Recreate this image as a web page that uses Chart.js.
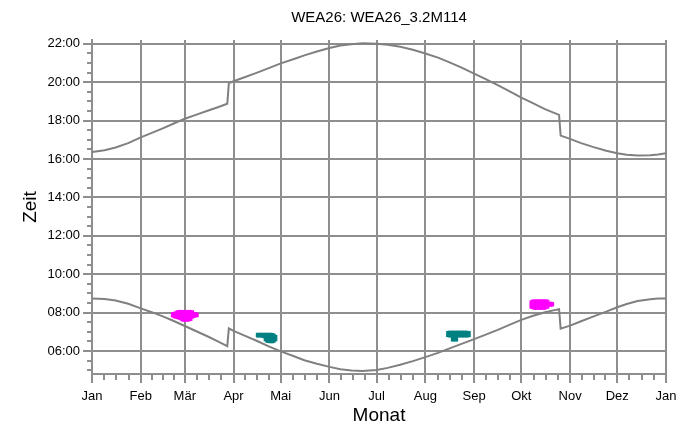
<!DOCTYPE html>
<html><head><meta charset="utf-8">
<script src="https://cdn.jsdelivr.net/npm/chart.js@4.4.1/dist/chart.umd.min.js"></script>
<style>html,body{margin:0;padding:0;background:#fff}canvas{display:block}</style>
</head><body>
<canvas id="c" width="696" height="430"></canvas>
<script>
// ---- axis categories / tick labels ----
const monthStarts = [0, 31, 59, 90, 120, 151, 181, 212, 243, 273, 304, 334, 365];
const monthNames  = ['Jan','Feb','Mär','Apr','Mai','Jun','Jul','Aug','Sep','Okt','Nov','Dez','Jan'];
const hourTicks   = [6, 8, 10, 12, 14, 16, 18, 20, 22];
const hourLabels  = ['06:00','08:00','10:00','12:00','14:00','16:00','18:00','20:00','22:00'];

// ---- sunrise / sunset curves (day of year, hours local time) ----
const curveDays    = [0, 8, 15, 23, 31, 38, 45, 52, 59, 66, 73, 80, 86, 87, 90, 97, 105, 112, 120, 128, 135, 143, 151, 158, 165, 172, 181, 188, 196, 204, 212, 220, 227, 235, 243, 250, 258, 265, 273, 280, 288, 297, 298, 304, 311, 319, 327, 334, 340, 347, 355, 360, 365];
const sunsetTimes  = [16.36, 16.46, 16.60, 16.83, 17.13, 17.36, 17.60, 17.85, 18.10, 18.30, 18.50, 18.70, 18.88, 19.95, 20.05, 20.26, 20.50, 20.72, 20.98, 21.20, 21.40, 21.60, 21.78, 21.91, 21.98, 22.03, 22.01, 21.95, 21.85, 21.69, 21.50, 21.28, 21.05, 20.76, 20.45, 20.17, 19.85, 19.55, 19.20, 18.92, 18.60, 18.30, 17.22, 17.05, 16.83, 16.62, 16.43, 16.30, 16.22, 16.18, 16.19, 16.24, 16.30];
const sunriseTimes = [8.73, 8.71, 8.63, 8.46, 8.22, 8.02, 7.80, 7.56, 7.30, 7.04, 6.78, 6.50, 6.25, 7.18, 7.05, 6.80, 6.52, 6.25, 5.98, 5.74, 5.52, 5.33, 5.17, 5.05, 4.98, 4.95, 5.01, 5.12, 5.28, 5.47, 5.68, 5.90, 6.12, 6.37, 6.62, 6.84, 7.10, 7.35, 7.62, 7.82, 8.02, 8.18, 7.16, 7.32, 7.55, 7.80, 8.05, 8.28, 8.45, 8.60, 8.70, 8.73, 8.73];

// ---- shadow periods (magenta) ----
const magentaDays  = [51, 52, 53, 54, 55, 56, 57, 58, 59, 60, 61, 62, 63, 64, 65, 66, 67,
                      279, 280, 281, 282, 283, 284, 285, 286, 287, 288, 289, 290, 291, 292, 293];
const magentaStart = [7.77, 7.72, 7.70, 7.68, 7.65, 7.62, 7.56, 7.54, 7.54, 7.54, 7.54, 7.56, 7.58, 7.70, 7.74, 7.76, 7.78,
                      8.22, 8.20, 8.16, 8.16, 8.16, 8.16, 8.16, 8.16, 8.16, 8.16, 8.20, 8.22, 8.32, 8.32, 8.34];
const magentaEnd   = [8.00, 8.02, 8.05, 8.10, 8.12, 8.12, 8.12, 8.12, 8.12, 8.12, 8.12, 8.12, 8.12, 8.10, 8.02, 8.00, 7.98,
                      8.62, 8.66, 8.67, 8.67, 8.67, 8.67, 8.67, 8.67, 8.67, 8.67, 8.67, 8.65, 8.55, 8.55, 8.53];

// ---- shadow periods (teal) ----
const tealDays  = [105, 106, 107, 108, 109, 110, 111, 112, 113, 114, 115, 116, 117,
                   226, 227, 228, 229, 230, 231, 232, 233, 234, 235, 236, 237, 238, 239, 240];
const tealStart = [6.72, 6.72, 6.72, 6.71, 6.68, 6.52, 6.45, 6.43, 6.42, 6.42, 6.42, 6.45, 6.52,
                   6.74, 6.72, 6.72, 6.51, 6.51, 6.51, 6.51, 6.72, 6.72, 6.72, 6.72, 6.72, 6.72, 6.72, 6.74];
const tealEnd   = [6.93, 6.93, 6.93, 6.93, 6.93, 6.93, 6.93, 6.93, 6.93, 6.93, 6.92, 6.88, 6.82,
                   7.02, 7.04, 7.04, 7.04, 7.04, 7.04, 7.04, 7.04, 7.04, 7.04, 7.04, 7.04, 7.04, 7.03, 7.02];

// ---- derived tick positions ----
const xMinor = [];
for (let i = 0; i < monthStarts.length - 1; i++) {
  const len = monthStarts[i + 1] - monthStarts[i];
  for (let k = 1; k < 4; k++) xMinor.push(monthStarts[i] + len * k / 4);
}
const xAllTicks = monthStarts.concat(xMinor).sort((a, b) => a - b);
const yAllTicks = [];
for (let h = 5; h <= 22; h += 0.5) yAllTicks.push(h);

const isXMajor = v => monthStarts.indexOf(v) >= 0;
const isYMajor = v => hourTicks.indexOf(v) >= 0;

function hasFont(name) {
  const c = document.createElement('canvas').getContext('2d');
  const s = 'WEA26: WEA26_3.2M114';
  c.font = '40px monospace';
  const w1 = c.measureText(s).width;
  c.font = '40px "' + name + '", monospace';
  return c.measureText(s).width !== w1;
}
const narrow = hasFont('Liberation Sans Narrow');
const titleFont = narrow ? { family: '"Liberation Sans Narrow"', size: 17 } : { family: '"Liberation Sans", Arial, sans-serif', size: 15 };
const tLH = titleFont.size * 1.2;
const titlePadTop = 17.5 - tLH / 2;
const titlePadBottom = 40 - tLH - titlePadTop;

const GRID = '#8e8e8e';
const CURVE = '#808080';
const FONT = '"Liberation Sans", Arial, sans-serif';

Chart.defaults.font.family = FONT;
Chart.defaults.color = '#000';

new Chart(document.getElementById('c'), {
  type: 'scatter',
  data: {
    datasets: [
      {
        type: 'line', label: 'Sonnenuntergang', showLine: true, order: 2,
        data: curveDays.map((d, i) => ({ x: d, y: sunsetTimes[i] })),
        borderColor: CURVE, borderWidth: 2, pointRadius: 0, tension: 0, fill: false
      },
      {
        type: 'line', label: 'Sonnenaufgang', showLine: true, order: 2,
        data: curveDays.map((d, i) => ({ x: d, y: sunriseTimes[i] })),
        borderColor: CURVE, borderWidth: 2, pointRadius: 0, tension: 0, fill: false
      },
      {
        type: 'bar', label: 'Schatten 1', order: 1, grouped: false,
        data: magentaDays.map((d, i) => ({ x: d, y: [magentaStart[i], magentaEnd[i]] })),
        backgroundColor: '#ff00ff', borderWidth: 0, barThickness: 2
      },
      {
        type: 'bar', label: 'Schatten 2', order: 1, grouped: false,
        data: tealDays.map((d, i) => ({ x: d, y: [tealStart[i], tealEnd[i]] })),
        backgroundColor: '#008080', borderWidth: 0, barThickness: 2
      }
    ]
  },
  options: {
    responsive: false,
    animation: false,
    events: [],
    layout: { padding: { left: 12, right: 30, top: 0, bottom: 0 } },
    plugins: {
      legend: { display: false },
      tooltip: { enabled: false },
      title: {
        display: true, text: 'WEA26: WEA26_3.2M114', fullSize: false,
        color: '#000', font: Object.assign({ weight: 'normal' }, titleFont),
        padding: { top: titlePadTop, bottom: titlePadBottom }
      }
    },
    scales: {
      x: {
        type: 'linear', min: 0, max: 365, offset: false,
        afterBuildTicks: s => { s.ticks = xAllTicks.map(v => ({ value: v })); },
        ticks: {
          autoSkip: false, maxRotation: 0, minRotation: 0, padding: 6,
          font: { size: 13 }, color: '#000',
          callback: v => { const i = monthStarts.indexOf(v); return i >= 0 ? monthNames[i] : ''; }
        },
        grid: {
          offset: false, drawTicks: true, tickLength: 9, lineWidth: 2, tickWidth: 2,
          color: c => (c.tick && isXMajor(c.tick.value)) ? GRID : 'rgba(0,0,0,0)',
          tickColor: GRID,
          tickBorderDash: c => (c.tick && isXMajor(c.tick.value)) ? [] : [5, 100]
        },
        border: { display: true, color: GRID, width: 2 },
        title: { display: true, text: 'Monat', font: { size: 19 }, color: '#000', padding: { top: -6.4, bottom: 3 } }
      },
      y: {
        type: 'linear', min: 4.8, max: 22.2,
        afterBuildTicks: s => { s.ticks = yAllTicks.map(v => ({ value: v })); },
        ticks: {
          autoSkip: false, padding: 3, font: { size: 13 }, color: '#000',
          callback: v => { const i = hourTicks.indexOf(v); return i >= 0 ? hourLabels[i] : ''; }
        },
        grid: {
          drawTicks: true, tickLength: 9, lineWidth: 2, tickWidth: 2,
          color: c => (c.tick && isYMajor(c.tick.value)) ? GRID : 'rgba(0,0,0,0)',
          tickColor: GRID,
          tickBorderDash: c => (c.tick && isYMajor(c.tick.value)) ? [] : [0, 4, 5, 100]
        },
        border: { display: true, color: GRID, width: 2 },
        title: { display: true, text: 'Zeit', font: { size: 19 }, color: '#000', padding: { top: 7, bottom: 2.7 } }
      }
    }
  }
});
</script>
</body></html>
